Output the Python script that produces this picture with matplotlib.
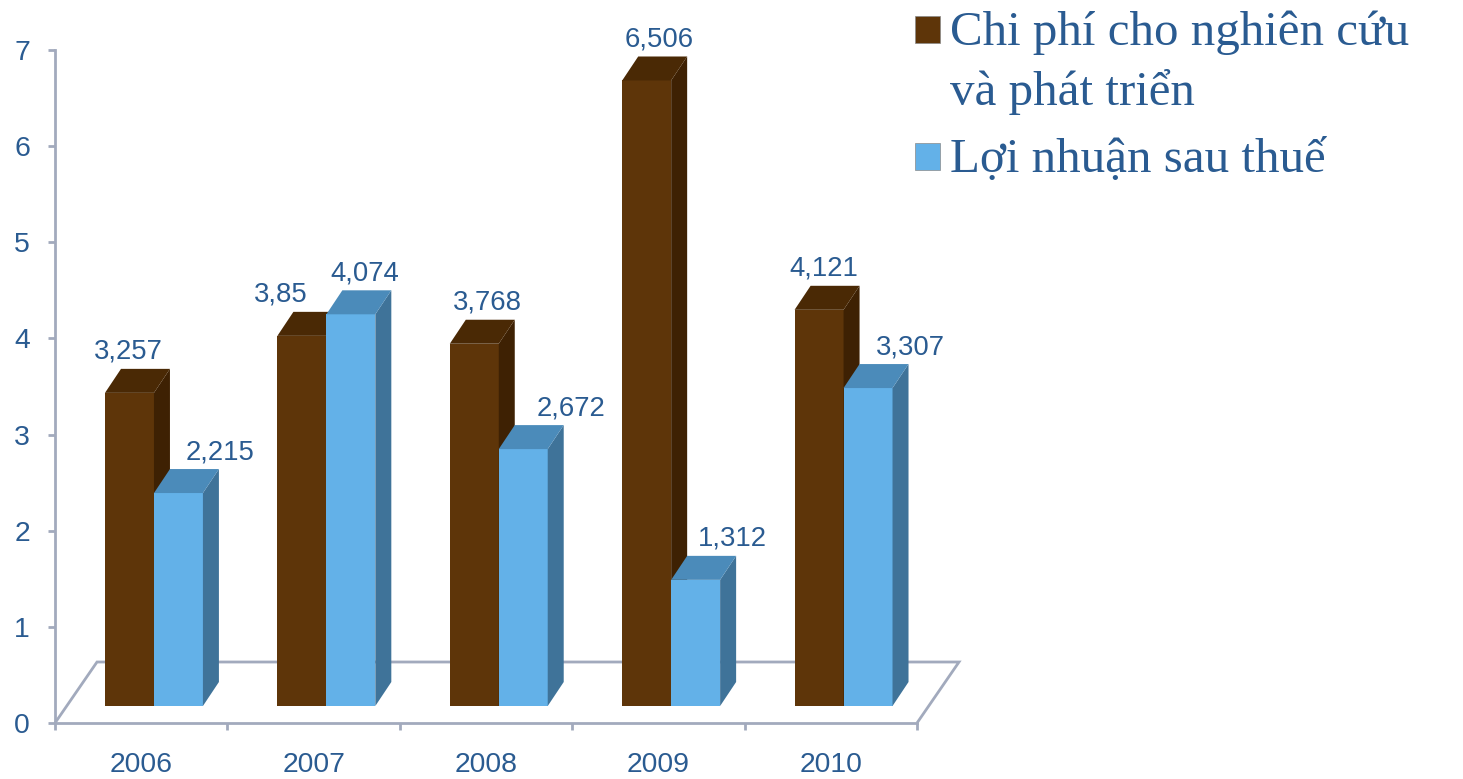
import matplotlib.pyplot as plt
from matplotlib.patches import Polygon, Rectangle

years = ["2006", "2007", "2008", "2009", "2010"]
series_names = ["Chi phí cho nghiên cứu\nvà phát triển", "Lợi nhuận sau thuế"]
rd_cost = [3.257, 3.85, 3.768, 6.506, 4.121]
net_profit = [2.215, 4.074, 2.672, 1.312, 3.307]

# front / top / side shades for each series
shades = [
    ("#5E3509", "#4A2905", "#3E2103"),
    ("#63B1E8", "#4B8BBA", "#3F7399"),
]
# sideways nudge of each value label, in pixels
label_shift = [
    [-1, -21, 13, 13, 5],
    [42, 14, 48, 37, 42],
]
text_blue = "#2A5B91"
axis_grey = "#A2AABD"

W, H = 1463, 779
fig = plt.figure(figsize=(W / 100, H / 100), dpi=100)
ax = fig.add_axes([55 / W, 56 / H, 862 / W, 673 / H])
ax.set_xlim(0, len(years))
ax.set_ylim(0, 7)
px_x = len(years) / 862   # data units per pixel
px_y = 7 / 673

# depth of the floor, depth of the bars and where the bars stand
floor_dx, floor_dy = 42 * px_x, 61 * px_y
bar_dx, bar_dy = 16 * px_x, 24 * px_y
base = 17 * px_y
width = 0.284
starts = [0.29, 0.574]

# floor outline
floor = Polygon([(0, 0), (floor_dx, floor_dy), (len(years) + floor_dx, floor_dy), (len(years), 0)],
                closed=False, fill=False, edgecolor=axis_grey, lw=2, clip_on=False, zorder=1)
ax.add_patch(floor)


def box(x, v, cols, shift):
    x2 = x + width
    y0, y1 = base, base + v
    ax.add_patch(Polygon([(x, y0), (x2, y0), (x2, y1), (x, y1)], closed=True,
                         facecolor=cols[0], edgecolor="none", zorder=3))
    ax.add_patch(Polygon([(x2, y0), (x2 + bar_dx, y0 + bar_dy), (x2 + bar_dx, y1 + bar_dy), (x2, y1)],
                         closed=True, facecolor=cols[2], edgecolor="none", zorder=3))
    ax.add_patch(Polygon([(x, y1), (x2, y1), (x2 + bar_dx, y1 + bar_dy), (x + bar_dx, y1 + bar_dy)],
                         closed=True, facecolor=cols[1], edgecolor="none", zorder=3))
    ax.text(x + width / 2 + shift * px_x, y1 + bar_dy + 10 * px_y, f"{v:g}".replace(".", ","),
            ha="center", va="baseline", fontsize=19.8, color=text_blue,
            family="Liberation Sans", zorder=4, clip_on=False)


for i in range(len(years)):
    for s, vals in enumerate([rd_cost, net_profit]):
        box(i + starts[s], vals[i], shades[s], label_shift[s][i])

for side in ["top", "right"]:
    ax.spines[side].set_visible(False)
for side in ["left", "bottom"]:
    ax.spines[side].set_color(axis_grey)
    ax.spines[side].set_linewidth(2)

ax.set_yticks(range(0, 8))
ax.tick_params(axis="y", length=5, width=2, color=axis_grey, pad=13,
               labelsize=20.4, labelcolor=text_blue)
ax.set_xticks(range(0, len(years) + 1))
ax.set_xticklabels([])
ax.tick_params(axis="x", which="major", length=5, width=2, color=axis_grey)
ax.set_xticks([i + 0.5 for i in range(len(years))], minor=True)
ax.set_xticklabels(years, minor=True)
ax.tick_params(axis="x", which="minor", length=0, pad=21, labelsize=20.4, labelcolor=text_blue)
for lab in ax.get_xticklabels(minor=True) + ax.get_yticklabels():
    lab.set_family("Liberation Sans")
ax.set_facecolor("none")

# legend on the right, one text per line
baseline = 45
for name, col in zip(series_names, shades):
    fig.patches.append(Rectangle((915 / W, 1 - (baseline - 2) / H), 25 / W, 27 / H,
                                 transform=fig.transFigure, facecolor=col[0],
                                 edgecolor="#8A8A8A", lw=0.5))
    for line in name.split("\n"):
        fig.text(950 / W, 1 - baseline / H, line, ha="left", va="baseline", fontsize=35.3,
                 family="Liberation Serif", color=text_blue)
        baseline += 60
    baseline += 7

fig.savefig("out.png", dpi=100)
